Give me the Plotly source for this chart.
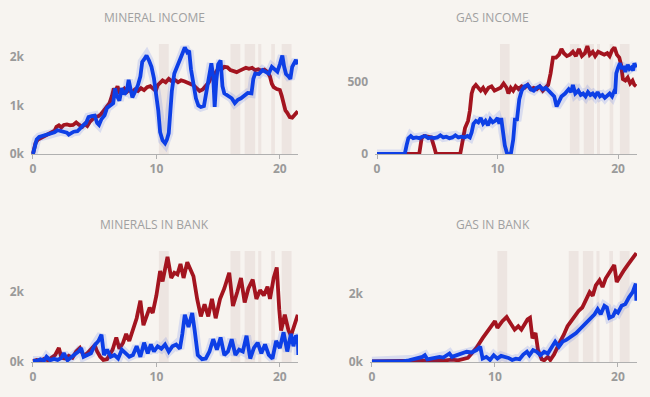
import plotly.graph_objects as go

# ---------------- data (time in minutes, value) ----------------
MI_RED = [(0,0),(0.2,220),(0.4,300),(0.6,330),(0.8,360),(1.0,380),(1.25,420),(1.5,450),(1.75,480),(1.9,560),(2.1,590),(2.3,550),(2.5,600),(2.75,610),(3.0,590),(3.25,600),(3.5,650),(3.75,600),(4.0,560),(4.2,620),(4.4,580),(4.6,660),(4.8,700),(5.0,760),(5.3,780),(5.5,820),(5.75,900),(6.0,980),(6.2,1050),(6.4,1200),(6.55,1350),(6.7,1300),(6.85,1400),(7.0,1250),(7.2,1300),(7.4,1350),(7.6,1280),(7.8,1330),(8.0,1270),(8.25,1330),(8.5,1300),(8.75,1360),(9.0,1320),(9.25,1380),(9.5,1400),(9.75,1350),(9.95,1300),(10.1,1420),(10.3,1480),(10.5,1520),(10.75,1480),(11.0,1550),(11.25,1500),(11.5,1530),(11.75,1480),(12.0,1520),(12.25,1500),(12.5,1480),(12.75,1450),(13.0,1420),(13.25,1360),(13.5,1300),(13.75,1330),(14.0,1400),(14.25,1480),(14.5,1620),(14.75,1660),(15.0,1760),(15.25,1740),(15.5,1800),(15.75,1790),(16.0,1730),(16.25,1700),(16.5,1690),(16.75,1720),(17.0,1760),(17.25,1780),(17.5,1760),(17.75,1780),(18.0,1730),(18.25,1750),(18.5,1720),(18.75,1740),(19.0,1690),(19.2,1600),(19.35,1450),(19.5,1380),(19.75,1340),(20.0,1320),(20.15,1200),(20.3,1050),(20.45,900),(20.6,850),(20.8,760),(21.0,750),(21.2,800),(21.45,880)]

MI_BLUE = [(0,0),(0.15,180),(0.3,300),(0.5,350),(0.75,370),(1.0,390),(1.25,400),(1.5,430),(1.75,450),(2.0,490),(2.25,470),(2.5,460),(2.75,440),(2.9,400),(3.1,430),(3.3,460),(3.6,470),(3.9,560),(4.1,600),(4.3,640),(4.5,760),(4.75,780),(5.0,790),(5.2,640),(5.35,600),(5.55,720),(5.8,800),(6.0,950),(6.25,1000),(6.5,1050),(6.65,1350),(6.8,1200),(7.0,1100),(7.2,1360),(7.4,1230),(7.6,1300),(7.75,1530),(7.9,1300),(8.05,1170),(8.3,1300),(8.5,1420),(8.7,1600),(8.85,1900),(9.0,1950),(9.2,2030),(9.4,1930),(9.6,1800),(9.8,1560),(10.0,1250),(10.15,900),(10.3,450),(10.5,280),(10.7,220),(10.85,300),(11.0,430),(11.1,900),(11.25,1300),(11.45,1660),(11.7,1800),(11.9,1950),(12.1,2070),(12.3,2200),(12.5,2100),(12.65,2130),(12.8,1750),(13.0,1450),(13.2,1150),(13.4,1000),(13.6,970),(13.85,990),(14.05,1300),(14.25,1600),(14.45,1870),(14.6,1600),(14.72,970),(14.85,1500),(15.0,1850),(15.2,1930),(15.35,1400),(15.5,1250),(15.8,1200),(16.1,1150),(16.35,1050),(16.6,1120),(16.85,1150),(17.1,1200),(17.4,1260),(17.7,1250),(17.85,1550),(18.0,1660),(18.3,1650),(18.6,1730),(18.9,1680),(19.1,1660),(19.35,1800),(19.6,1740),(19.8,1700),(20.0,1850),(20.2,2030),(20.35,1800),(20.5,1650),(20.7,1600),(20.85,1550),(21.0,1800),(21.2,1880),(21.3,1940),(21.45,1850)]

GI_RED = [(0,0),(3.5,0),(3.7,110),(3.9,125),(4.2,120),(4.5,115),(4.7,60),(4.9,0),(6.9,0),(7.1,80),(7.3,180),(7.55,230),(7.7,300),(7.85,420),(8.0,460),(8.2,480),(8.4,460),(8.6,440),(8.8,460),(9.0,430),(9.25,460),(9.5,470),(9.75,440),(10.0,450),(10.25,460),(10.5,490),(10.75,460),(10.9,420),(11.1,460),(11.3,440),(11.5,470),(11.75,450),(12.0,470),(12.25,460),(12.5,480),(12.75,450),(13.0,460),(13.25,450),(13.5,470),(13.75,440),(14.0,460),(14.2,480),(14.4,560),(14.6,670),(14.85,670),(15.1,690),(15.3,730),(15.5,700),(15.75,680),(16.0,690),(16.25,710),(16.5,680),(16.75,730),(17.0,680),(17.25,700),(17.45,750),(17.65,690),(17.9,710),(18.1,680),(18.35,710),(18.6,700),(18.85,690),(19.1,700),(19.3,680),(19.5,720),(19.7,740),(19.9,690),(20.1,670),(20.25,620),(20.4,520),(20.6,510),(20.8,530),(21.0,490),(21.2,510),(21.35,480),(21.5,470)]

GI_BLUE = [(0,0),(2.3,0),(2.45,60),(2.6,110),(2.8,125),(3.0,110),(3.25,115),(3.5,110),(3.75,120),(4.0,125),(4.25,110),(4.5,115),(4.75,110),(5.0,115),(5.25,130),(5.5,115),(5.75,120),(6.0,110),(6.25,115),(6.5,130),(6.75,115),(7.0,120),(7.25,115),(7.5,125),(7.7,115),(7.85,150),(8.0,210),(8.2,230),(8.4,220),(8.6,250),(8.8,210),(9.0,230),(9.2,200),(9.4,240),(9.6,220),(9.8,230),(10.0,250),(10.15,210),(10.3,250),(10.45,150),(10.6,60),(10.8,0),(11.1,0),(11.3,100),(11.45,250),(11.6,230),(11.8,380),(12.0,440),(12.25,470),(12.5,480),(12.75,450),(13.0,440),(13.25,460),(13.5,470),(13.75,450),(14.0,460),(14.25,440),(14.5,420),(14.7,400),(14.9,330),(15.1,360),(15.3,400),(15.6,420),(15.9,450),(16.1,430),(16.25,480),(16.45,420),(16.7,440),(16.9,410),(17.1,420),(17.3,400),(17.5,430),(17.7,410),(17.9,420),(18.1,400),(18.3,430),(18.5,400),(18.7,410),(18.9,390),(19.1,410),(19.3,420),(19.5,400),(19.65,430),(19.75,420),(19.85,560),(20.0,600),(20.15,630),(20.3,590),(20.45,610),(20.6,570),(20.8,620),(20.95,590),(21.1,600),(21.25,580),(21.35,630),(21.5,600)]

MB_RED = [(0,20),(0.3,60),(0.6,30),(0.9,90),(1.2,50),(1.5,120),(1.8,200),(2.1,400),(2.3,120),(2.6,100),(2.9,180),(3.2,120),(3.5,300),(3.8,400),(4.1,180),(4.4,250),(4.7,380),(5.0,480),(5.2,300),(5.45,150),(5.7,60),(6.0,80),(6.2,200),(6.45,350),(6.75,700),(7.0,380),(7.3,550),(7.55,800),(7.8,600),(8.1,900),(8.4,1250),(8.7,1750),(8.95,1050),(9.2,1300),(9.45,1550),(9.7,1400),(10.0,1900),(10.3,2600),(10.5,2300),(10.9,3000),(11.2,2400),(11.45,2550),(11.7,2500),(11.95,2800),(12.2,2400),(12.5,2850),(12.8,2600),(13.0,2450),(13.3,1800),(13.6,1300),(13.9,1650),(14.2,1300),(14.5,1800),(14.8,1250),(15.15,1800),(15.5,2100),(15.9,2550),(16.2,1600),(16.55,2000),(16.85,2400),(17.15,1700),(17.45,2100),(17.8,2350),(18.1,1800),(18.4,2050),(18.7,1900),(19.0,2150),(19.2,1800),(19.5,2400),(19.75,2700),(19.95,1500),(20.1,900),(20.4,1350),(20.7,900),(20.9,750),(21.15,1000),(21.45,1350)]

MB_BLUE = [(0,40),(0.3,30),(0.6,80),(0.9,40),(1.1,150),(1.4,50),(1.7,90),(2.0,60),(2.3,120),(2.5,250),(2.8,50),(3.1,120),(3.4,220),(3.7,300),(3.9,400),(4.1,150),(4.4,200),(4.7,250),(5.0,480),(5.3,600),(5.55,780),(5.75,200),(6.0,350),(6.3,150),(6.6,200),(6.9,100),(7.2,350),(7.5,250),(7.8,150),(8.1,200),(8.4,450),(8.7,150),(9.0,550),(9.3,250),(9.55,500),(9.8,300),(10.1,450),(10.4,380),(10.7,500),(11.0,300),(11.3,450),(11.6,500),(11.9,380),(12.1,800),(12.3,1350),(12.6,1000),(12.9,1400),(13.1,900),(13.35,200),(13.7,80),(14.0,100),(14.3,300),(14.6,650),(14.9,350),(15.2,700),(15.5,200),(15.8,300),(16.1,650),(16.4,200),(16.7,350),(17.0,300),(17.3,750),(17.6,100),(17.9,400),(18.2,550),(18.5,250),(18.8,500),(19.1,200),(19.4,100),(19.7,600),(20.0,400),(20.3,850),(20.6,300),(20.9,800),(21.1,450),(21.3,750),(21.45,700),(21.5,200)]

GB_RED = [(0,20),(2.5,20),(3,30),(3.5,40),(4,50),(4.5,30),(5,40),(5.5,60),(6,50),(6.5,70),(7,50),(7.5,80),(7.8,120),(8.1,250),(8.5,420),(9.0,700),(9.5,950),(9.8,1100),(10.0,1200),(10.2,1000),(10.6,1200),(10.95,1320),(11.3,1100),(11.6,950),(11.9,1050),(12.15,950),(12.4,1100),(12.65,1250),(12.85,1300),(13.05,700),(13.3,850),(13.5,350),(13.8,80),(14.0,50),(14.3,150),(14.5,60),(14.8,220),(15.0,400),(15.3,600),(15.6,800),(15.9,1050),(16.2,1200),(16.5,1350),(16.8,1500),(17.1,1600),(17.4,1800),(17.7,2050),(17.95,1950),(18.2,2250),(18.5,2400),(18.75,2200),(19.0,2450),(19.25,2600),(19.5,2750),(19.7,2850),(19.9,2350),(20.2,2550),(20.5,2700),(20.8,2850),(21.1,3000),(21.5,3200)]

GB_BLUE = [(0,20),(2.5,20),(3.0,50),(3.4,80),(3.8,120),(4.1,150),(4.3,200),(4.5,80),(4.8,100),(5.2,120),(5.5,150),(5.8,130),(6.1,200),(6.3,250),(6.5,150),(6.9,200),(7.3,250),(7.7,300),(8.1,280),(8.5,350),(8.8,450),(9.0,100),(9.3,150),(9.6,60),(9.9,200),(10.2,100),(10.5,180),(10.8,150),(11.1,120),(11.4,60),(11.7,100),(12.0,80),(12.3,220),(12.6,300),(12.8,200),(13.1,350),(13.4,300),(13.7,200),(14.0,300),(14.3,250),(14.6,450),(14.9,600),(15.2,450),(15.5,600),(15.8,650),(16.2,750),(16.6,850),(17.0,1000),(17.4,1150),(17.8,1300),(18.1,1400),(18.35,1550),(18.6,1400),(18.9,1650),(19.1,1600),(19.3,1300),(19.6,1350),(19.8,1500),(20.0,1450),(20.3,1650),(20.6,1700),(20.9,1900),(21.2,2050),(21.45,2300),(21.5,1800)]

# shaded time windows (start, end)
BANDS = [(10.2, 11.0), (16.0, 16.8), (17.15, 18.0), (18.25, 18.5), (19.3, 19.6), (20.15, 20.95)]

TITLES = ["MINERAL INCOME", "GAS INCOME", "MINERALS IN BANK", "GAS IN BANK"]
X_TICKS = [0, 10, 20]

RED = "#a3141f"
BLUE = "#0d3fe6"
BG = "#f7f4f0"
BAND = "#ede5e1"
GREY = "#9a9a9a"

fig = go.Figure()

panels = [
    dict(red=MI_RED, blue=MI_BLUE, xa="x", ya="y", xd=[31/650, 298/650], yd=[243/397, 353/397],
         xr=[-0.16, 21.47], yr=[0, 2270], yt=[0, 1000, 2000], ytt=["0k", "1k", "2k"]),
    dict(red=GI_RED, blue=GI_BLUE, xa="x2", ya="y2", xd=[375/650, 637/650], yd=[243/397, 353/397],
         xr=[-0.17, 21.57], yr=[0, 764], yt=[0, 500], ytt=["0", "500"]),
    dict(red=MB_RED, blue=MB_BLUE, xa="x3", ya="y3", xd=[31/650, 298/650], yd=[35/397, 146/397],
         xr=[-0.16, 21.47], yr=[0, 3170], yt=[0, 2000], ytt=["0k", "2k"]),
    dict(red=GB_RED, blue=GB_BLUE, xa="x4", ya="y4", xd=[370/650, 637/650], yd=[35/397, 146/397],
         xr=[-0.16, 21.55], yr=[0, 3260], yt=[0, 2000], ytt=["0k", "2k"]),
]

shapes = []
annotations = []
for i, p in enumerate(panels):
    for name, ser, col in (("red", p["red"], RED), ("blue", p["blue"], BLUE)):
        xs = [a for a, b in ser]
        ys = [b for a, b in ser]
        if name == "blue":
            fig.add_trace(go.Scatter(x=xs, y=ys, mode="lines", xaxis=p["xa"], yaxis=p["ya"],
                                     line=dict(color="rgba(13,63,230,0.13)", width=9),
                                     hoverinfo="skip", showlegend=False))
        fig.add_trace(go.Scatter(x=xs, y=ys, mode="lines", xaxis=p["xa"], yaxis=p["ya"],
                                 line=dict(color=col, width=3.8), showlegend=False))
    for a, b in BANDS:
        shapes.append(dict(type="rect", xref=p["xa"], yref=p["ya"] + " domain", x0=a, x1=b,
                           y0=0, y1=1, fillcolor=BAND, line=dict(width=0), layer="below"))
    sfx = "" if i == 0 else str(i + 1)
    fig.layout["xaxis" + sfx] = dict(domain=p["xd"], range=p["xr"], anchor=p["ya"],
                                     tickvals=X_TICKS, showgrid=False, zeroline=False,
                                     showline=True, linecolor="#b0b0b0", linewidth=1,
                                     ticks="outside", ticklen=4, tickcolor="#b0b0b0",
                                     tickfont=dict(family="Open Sans", size=12, color=GREY, weight="bold"))
    fig.layout["yaxis" + sfx] = dict(domain=p["yd"], range=p["yr"], anchor=p["xa"],
                                     tickvals=p["yt"], ticktext=p["ytt"], showgrid=False,
                                     zeroline=False, showline=False, ticks="", ticklabelstandoff=6,
                                     tickfont=dict(family="Open Sans", size=12, color=GREY, weight="bold"))
    ty = 17 if i < 2 else 224
    annotations.append(dict(text=TITLES[i], xref="paper", yref="paper", x=[154, 493, 154, 493][i] / 650,
                            y=1 - ty / 397, xanchor="center", yanchor="middle", showarrow=False,
                            font=dict(family="Open Sans", size=12, color="#a0a0a0")))

fig.update_layout(width=650, height=397, margin=dict(l=0, r=0, t=0, b=0, autoexpand=False),
                  paper_bgcolor=BG, plot_bgcolor=BG, shapes=shapes, annotations=annotations,
                  showlegend=False)

fig.write_html("out.html", config={"displayModeBar": False},
               post_script="document.body.style.margin='0';document.body.style.background='%s';" % BG)
